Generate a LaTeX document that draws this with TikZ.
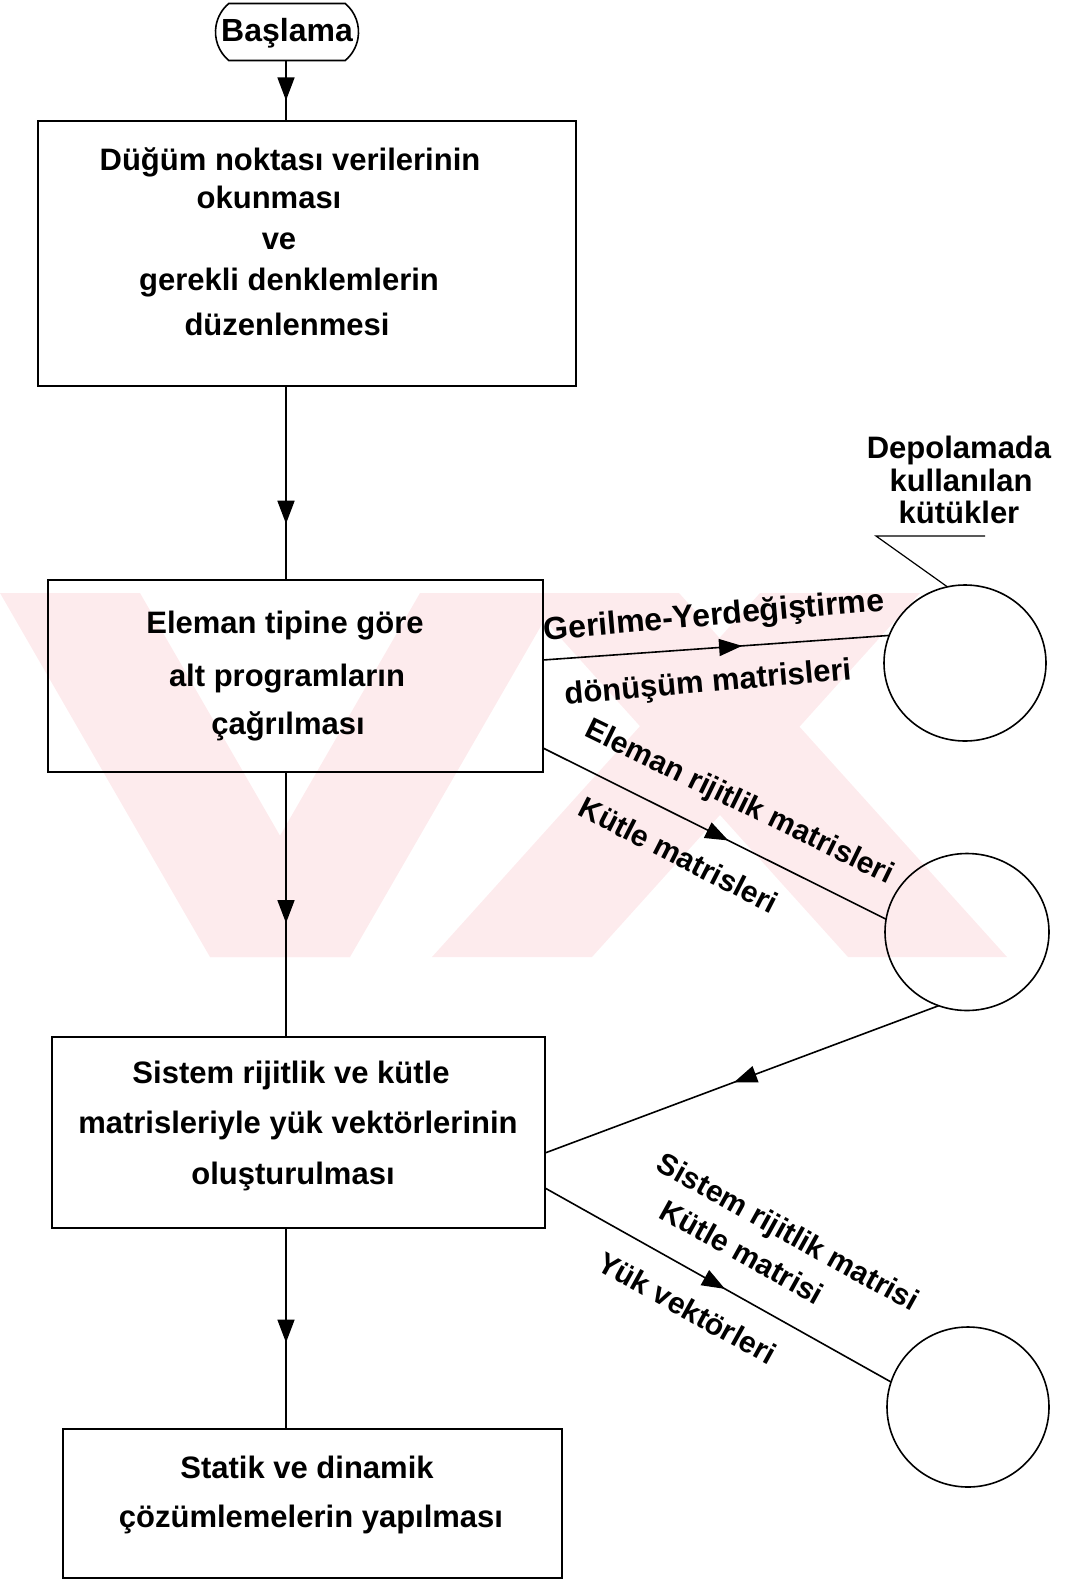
\documentclass[tikz,border=0pt]{standalone}
\usepackage{fontspec}
\setmainfont{Liberation Sans}
\usetikzlibrary{arrows.meta,decorations.markings,shapes.misc,shapes.geometric}
\definecolor{wmpink}{RGB}{253,235,237}
\begin{document}
\begin{tikzpicture}[x=1pt,y=-1pt,
  every node/.style={inner sep=0pt, outer sep=0pt},
  lbl/.style={font=\bfseries\fontsize{31}{38}\selectfont, anchor=base},
  rlbl/.style={font=\bfseries\fontsize{30}{36}\selectfont, anchor=center},
  procbox/.style={draw, line width=1.6pt},
  store/.style={draw, ellipse, line width=1.6pt},
  conn/.style={line width=1.6pt},
  midarrow/.style={postaction={decorate},
    decoration={markings, mark=at position #1 with {\arrow{Triangle[length=23pt,width=17pt]}}}}
]
\useasboundingbox (0,0) rectangle (1068,1582);

% background emblem
\fill[wmpink] (0,593) -- (140,593) -- (350,957) -- (210,957) -- cycle;
\fill[wmpink] (420,593) -- (560,593) -- (350,957) -- (210,957) -- cycle;
\fill[wmpink] (520,593) -- (679,593) -- (1007,957) -- (848,957) -- cycle;
\fill[wmpink] (760,593) -- (920,593) -- (592,957) -- (432,957) -- cycle;

% start terminal
\node[procbox, rounded rectangle, rounded rectangle arc length=100,
      minimum width=143pt, minimum height=57pt] (start) at (287,32) {};
\node[lbl, anchor=center, font=\bfseries\fontsize{32}{38}\selectfont] (startt) at (287,33) {Başlama};

% process boxes
\node[procbox, minimum width=538pt, minimum height=265pt] (b1) at (307,253.5) {};
\node[procbox, minimum width=495pt, minimum height=192pt] (b2) at (295.5,676) {};
\node[procbox, minimum width=493pt, minimum height=191pt] (b3) at (298.5,1132.5) {};
\node[procbox, minimum width=499pt, minimum height=149pt] (b4) at (312.5,1503.5) {};

\node[lbl] (b1l1) at (290,170) {Düğüm noktası verilerinin};
\node[lbl] (b1l2) at (269,208) {okunması};
\node[lbl] (b1l3) at (279,249) {ve};
\node[lbl] (b1l4) at (289,290) {gerekli denklemlerin};
\node[lbl] (b1l5) at (287,335) {düzenlenmesi};

\node[lbl] (b2l1) at (285,633) {Eleman tipine göre};
\node[lbl] (b2l2) at (287,686) {alt programların};
\node[lbl] (b2l3) at (288,734) {çağrılması};

\node[lbl] (b3l1) at (291,1083) {Sistem rijitlik ve kütle};
\node[lbl] (b3l2) at (298,1133) {matrisleriyle yük vektörlerinin};
\node[lbl] (b3l3) at (293,1184) {oluşturulması};

\node[lbl] (b4l1) at (307,1478) {Statik ve dinamik};
\node[lbl] (b4l2) at (311,1527) {çözümlemelerin yapılması};

% storage files
\node[store, minimum width=162pt, minimum height=156pt] (c1) at (965,663) {};
\node[store, minimum width=164pt, minimum height=157pt] (c2) at (967,932) {};
\node[store, minimum width=162pt, minimum height=160pt] (c3) at (968,1407) {};

\node[lbl] (d1) at (959,458) {Depolamada};
\node[lbl] (d2) at (961,491) {kullanılan};
\node[lbl] (d3) at (959,523) {kütükler};
\coordinate (u1) at (876,536);
\coordinate (u2) at (985,536);
\draw[line width=1.2pt] (u2) -- (u1) -- (c1.103);

% main flow
\coordinate (ax) at (286,0);
\draw[conn, midarrow=0.66] (start.south -| ax) -- (b1.north -| ax);
\draw[conn, midarrow=0.71] (b1.south -| ax) -- (b2.north -| ax);
\draw[conn, midarrow=0.57] (b2.south -| ax) -- (b3.north -| ax);
\draw[conn, midarrow=0.57] (b3.south -| ax) -- (b4.north -| ax);

% data transfers
\draw[conn, midarrow=0.575] (b2.east |- 0,660) -- (c1.160);
\draw[conn, midarrow=0.54] (b2.east |- 0,748) -- (c2.171);
\draw[conn, midarrow=0.52] (c2.249) -- (b3.east |- 0,1153);
\draw[conn, midarrow=0.52] (b3.east |- 0,1188) -- (c3.162);

% transfer labels
\node[rlbl, rotate=5, font=\bfseries\fontsize{32}{38}\selectfont] (t1) at (714,617) {Gerilme-Yerdeğiştirme};
\node[rlbl, rotate=5, font=\bfseries\fontsize{31}{38}\selectfont] (t2) at (708,684) {dönüşüm matrisleri};
\node[rlbl, rotate=-26] (t3) at (739,803) {Eleman rijitlik matrisleri};
\node[rlbl, rotate=-27] (t4) at (679,855) {Kütle matrisleri};
\node[rlbl, rotate=-29] (t5) at (787,1234) {Sistem rijitlik matrisi};
\node[rlbl, rotate=-29] (t6) at (742,1252) {Kütle matrisi};
\node[rlbl, rotate=-29] (t7) at (687,1308) {Yük vektörleri};
\end{tikzpicture}
\end{document}
